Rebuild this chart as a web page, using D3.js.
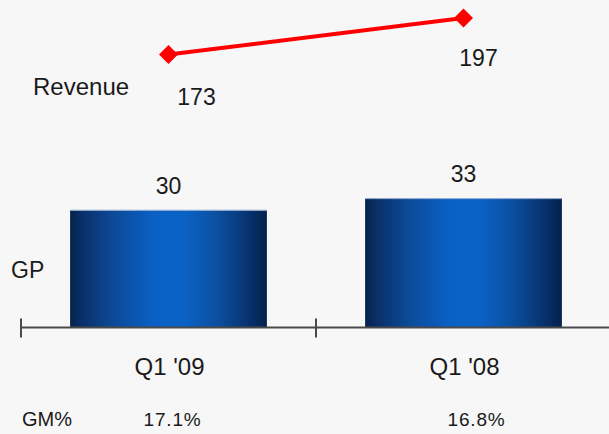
<!DOCTYPE html>
<html>
<head>
<meta charset="utf-8">
<script src="https://cdn.jsdelivr.net/npm/d3@7"></script>
<style>
  html, body { margin: 0; padding: 0; background: #f7f7f7; }
  svg { display: block; }
  text { font-family: "Liberation Sans", Arial, sans-serif; fill: #1a1a1a; }
</style>
</head>
<body>
<svg id="chart" width="609" height="434"></svg>
<script>
// ---- data ----
const categories = ["Q1 '09", "Q1 '08"];
const gpValues = [30, 33];
const revenueValues = [173, 197];
const gmLabels = ["17.1%", "16.8%"];
const revenueLabelDx = [28, 15];   // label offsets from point centre
const revenueLabelDy = [50, 48];

const W = 609, H = 434;
const svg = d3.select("#chart");

svg.append("rect").attr("width", W).attr("height", H).attr("fill", "#f7f7f7");

// gradient for bars
const defs = svg.append("defs");
const grad = defs.append("linearGradient").attr("id", "barGrad")
  .attr("x1", "0%").attr("x2", "100%").attr("y1", "0%").attr("y2", "0%");
[["0%", "#05224c"], ["6%", "#0a3068"], ["22%", "#0c4a98"], ["42%", "#0a60c4"],
 ["58%", "#0b62c6"], ["75%", "#0b4f9f"], ["92%", "#07306a"], ["100%", "#04214c"]]
  .forEach(([o, c]) => grad.append("stop").attr("offset", o).attr("stop-color", c));

// scales
const axisY = 327.5;
const x = d3.scaleBand().domain(categories).range([21, 611]).paddingInner(0.333).paddingOuter(0.1665);
const y = d3.scaleLinear().domain([0, 33]).range([axisY, axisY - 33 * 3.92]);
const yRev = d3.scaleLinear().domain([173, 197]).range([54.5, 18]);

// bars
const bars = svg.append("g");
categories.forEach((c, i) => {
  const bx = x(c), bw = x.bandwidth(), by = y(gpValues[i]);
  bars.append("rect").attr("x", bx).attr("y", by).attr("width", bw).attr("height", axisY - by)
    .attr("fill", "url(#barGrad)");
  bars.append("line").attr("x1", bx).attr("x2", bx + bw).attr("y1", by + 0.5).attr("y2", by + 0.5)
    .attr("stroke", "#9db5d6").attr("stroke-width", 1);
  bars.append("text").attr("x", bx + bw / 2).attr("y", by - 16)
    .attr("text-anchor", "middle").attr("font-size", 23).text(gpValues[i]);
});

// axis
const axis = d3.axisBottom(x).tickSize(0).tickFormat("");
const ag = svg.append("g").attr("transform", `translate(0,${axisY})`).call(axis);
ag.select(".domain").remove();
ag.append("line").attr("x1", 21).attr("x2", 611).attr("y1", 0).attr("y2", 0)
  .attr("stroke", "#4a4a4a").attr("stroke-width", 2);
[21, (x(categories[0]) + x.bandwidth() + x(categories[1])) / 2, 611].forEach(tx => {
  ag.append("line").attr("x1", tx).attr("x2", tx).attr("y1", -9).attr("y2", 10)
    .attr("stroke", "#4a4a4a").attr("stroke-width", 2);
});

// category labels
categories.forEach(c => {
  svg.append("text").attr("x", x(c) + x.bandwidth() / 2 + 1).attr("y", 375)
    .attr("text-anchor", "middle").attr("font-size", 24).text(c);
});

// GM% row
svg.append("text").attr("x", 22).attr("y", 426).attr("font-size", 20).text("GM%");
gmLabels.forEach((g, i) => {
  svg.append("text").attr("x", x(categories[i]) + x.bandwidth() / 2 + (i === 0 ? 4 : 13)).attr("y", 426)
    .attr("text-anchor", "middle").attr("font-size", 19).attr("letter-spacing", 0.8).text(g);
});

// side labels
svg.append("text").attr("x", 33).attr("y", 95).attr("font-size", 24).text("Revenue");
svg.append("text").attr("x", 11).attr("y", 278).attr("font-size", 23).text("GP");

// revenue line
const px = c => x(c) + x.bandwidth() / 2;
const line = d3.line().x((d, i) => px(categories[i])).y(d => yRev(d));
svg.append("path").datum(revenueValues).attr("d", line)
  .attr("fill", "none").attr("stroke", "#ff0000").attr("stroke-width", 4);
revenueValues.forEach((v, i) => {
  svg.append("path").attr("d", d3.symbol().type(d3.symbolDiamond2).size(230)())
    .attr("transform", `translate(${px(categories[i])},${yRev(v)})`).attr("fill", "#ff0000");
  svg.append("text").attr("x", px(categories[i]) + revenueLabelDx[i]).attr("y", yRev(v) + revenueLabelDy[i])
    .attr("text-anchor", "middle").attr("font-size", 23).text(v);
});
</script>
</body>
</html>
